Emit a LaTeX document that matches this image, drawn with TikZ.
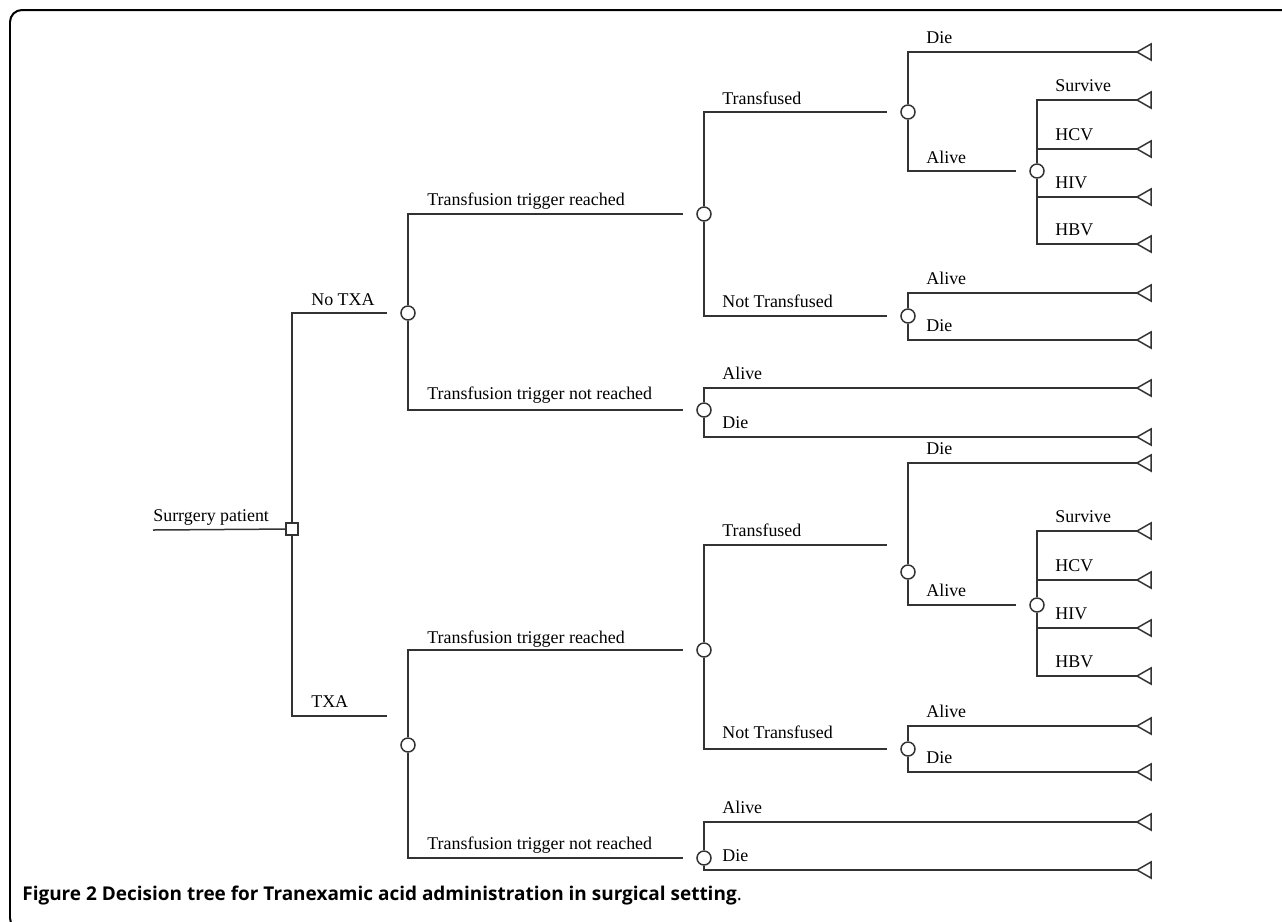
\documentclass[tikz,border=0pt]{standalone}
\usepackage{fontspec}
\setmainfont{Liberation Serif}
\newfontfamily\capfont{Open Sans}
\usetikzlibrary{calc}

\tikzset{
  tree/.style={line width=0.03cm, draw=black!80},
  gap/.style={tree, shorten >=0.26cm},
  chance/.style={circle, draw=black!80, line width=0.03cm, fill=white, inner sep=0pt, minimum size=0.28cm},
  decision/.style={rectangle, draw=black!80, line width=0.03cm, fill=white, inner sep=0pt, minimum size=0.24cm},
  lbl/.style={anchor=base west, inner sep=0pt, font=\fontsize{10.2}{12}\selectfont},
  frame/.style={line width=0.04cm, rounded corners=0.24cm},
}

\begin{document}
\begin{tikzpicture}[x=0.02cm,y=-0.02cm]
    \useasboundingbox (0,0) rectangle (1282,921);
    \clip (0,0) rectangle (1282,921);
    \draw[frame] (1300,10) -| (10,930) -- (1300,930);

    \coordinate (start) at (153,530);
    \coordinate (txa-end) at (387,716);
    \coordinate (trans-end-b) at (887,545);
    \node[decision] (root) at (292,529) {};
    \node[chance] (notxa) at (408,313) {};
    \node[chance] (txa) at (408,745) {};
    \node[chance] (trig-a) at (704,214) {};
    \node[chance] (notrig-a) at (704,410) {};
    \node[chance] (trig-b) at (704,650) {};
    \node[chance] (notrig-b) at (704,858) {};
    \node[chance] (trans-a) at (908,112) {};
    \node[chance] (nottrans-a) at (908,316) {};
    \node[chance] (trans-b) at (908,572) {};
    \node[chance] (nottrans-b) at (908,749) {};
    \node[chance] (alive-a) at (1037,171) {};
    \node[chance] (alive-b) at (1037,605) {};
    \coordinate (die-a) at (1137,52);
    \coordinate (surv-a) at (1137,100);
    \coordinate (hcv-a) at (1137,149);
    \coordinate (hiv-a) at (1137,197);
    \coordinate (hbv-a) at (1137,244);
    \coordinate (nt-alive-a) at (1137,293);
    \coordinate (nt-die-a) at (1137,340);
    \coordinate (nr-alive-a) at (1137,388);
    \coordinate (nr-die-a) at (1137,437);
    \coordinate (die-b) at (1137,463);
    \coordinate (surv-b) at (1137,531);
    \coordinate (hcv-b) at (1137,580);
    \coordinate (hiv-b) at (1137,628);
    \coordinate (hbv-b) at (1137,676);
    \coordinate (nt-alive-b) at (1137,726);
    \coordinate (nt-die-b) at (1137,772);
    \coordinate (nr-alive-b) at (1137,822);
    \coordinate (nr-die-b) at (1137,870);

      \draw[tree] (start) -- (root);
      \draw[gap] (root) |- (notxa);
      \draw[tree] (root) |- (txa-end);
      \draw[gap] (notxa) |- (trig-a);
      \draw[gap] (notxa) |- (notrig-a);
      \draw[gap] (txa) |- (trig-b);
      \draw[gap] (txa) |- (notrig-b);
      \draw[gap] (trig-a) |- (trans-a);
      \draw[gap] (trig-a) |- (nottrans-a);
      \draw[tree] (trig-b) |- (trans-end-b);
      \draw[gap] (trig-b) |- (nottrans-b);
      \draw[tree] (trans-a) |- (die-a);
      \draw[gap] (trans-a) |- (alive-a);
      \draw[tree] (trans-b) |- (die-b);
      \draw[gap] (trans-b) |- (alive-b);
      \draw[tree] (alive-a) |- (surv-a);
      \draw[tree] (alive-a) |- (hcv-a);
      \draw[tree] (alive-a) |- (hiv-a);
      \draw[tree] (alive-a) |- (hbv-a);
      \draw[tree] (alive-b) |- (surv-b);
      \draw[tree] (alive-b) |- (hcv-b);
      \draw[tree] (alive-b) |- (hiv-b);
      \draw[tree] (alive-b) |- (hbv-b);
      \draw[tree] (nottrans-a) |- (nt-alive-a);
      \draw[tree] (nottrans-a) |- (nt-die-a);
      \draw[tree] (nottrans-b) |- (nt-alive-b);
      \draw[tree] (nottrans-b) |- (nt-die-b);
      \draw[tree] (notrig-a) |- (nr-alive-a);
      \draw[tree] (notrig-a) |- (nr-die-a);
      \draw[tree] (notrig-b) |- (nr-alive-b);
      \draw[tree] (notrig-b) |- (nr-die-b);
      \foreach \t in {die-a,surv-a,hcv-a,hiv-a,hbv-a,nt-alive-a,nt-die-a,nr-alive-a,nr-die-a,
                      die-b,surv-b,hcv-b,hiv-b,hbv-b,nt-alive-b,nt-die-b,nr-alive-b,nr-die-b}
        \draw[tree] (\t) -- ++(14,-8) -- ++(0,16) -- cycle;

      \node[lbl] (l-root) at (153,521) {Surrgery patient};
      \node[lbl] (l-notxa) at (311,305) {No TXA};
      \node[lbl] (l-txa) at (311,707) {TXA};
      \node[lbl] (l-trig-a) at (427,205) {Transfusion trigger reached};
      \node[lbl] (l-notrig-a) at (427,399) {Transfusion trigger not reached};
      \node[lbl] (l-trig-b) at (427,643) {Transfusion trigger reached};
      \node[lbl] (l-notrig-b) at (427,849) {Transfusion trigger not reached};
      \node[lbl] (l-trans-a) at (722,104) {Transfused};
      \node[lbl] (l-nottrans-a) at (722,307) {Not Transfused};
      \node[lbl] (l-trans-b) at (722,536) {Transfused};
      \node[lbl] (l-nottrans-b) at (722,738) {Not Transfused};
      \node[lbl] (l-nr-alive-a) at (722,379) {Alive};
      \node[lbl] (l-nr-die-a) at (722,428) {Die};
      \node[lbl] (l-nr-alive-b) at (722,813) {Alive};
      \node[lbl] (l-nr-die-b) at (722,861) {Die};
      \node[lbl] (l-die-a) at (926,43) {Die};
      \node[lbl] (l-alive-a) at (926,163) {Alive};
      \node[lbl] (l-nt-alive-a) at (926,284) {Alive};
      \node[lbl] (l-nt-die-a) at (926,331) {Die};
      \node[lbl] (l-die-b) at (926,454) {Die};
      \node[lbl] (l-alive-b) at (926,596) {Alive};
      \node[lbl] (l-nt-alive-b) at (926,717) {Alive};
      \node[lbl] (l-nt-die-b) at (926,763) {Die};
      \node[lbl] (l-surv-a) at (1055,91) {Survive};
      \node[lbl] (l-hcv-a) at (1055,140) {HCV};
      \node[lbl] (l-hiv-a) at (1055,188) {HIV};
      \node[lbl] (l-hbv-a) at (1055,235) {HBV};
      \node[lbl] (l-surv-b) at (1055,522) {Survive};
      \node[lbl] (l-hcv-b) at (1055,571) {HCV};
      \node[lbl] (l-hiv-b) at (1055,619) {HIV};
      \node[lbl] (l-hbv-b) at (1055,667) {HBV};
      \node[anchor=base west, inner sep=0pt, font=\capfont\fontsize{10.8}{13}\selectfont] (caption) at (22,900)
        {\textbf{Figure 2 Decision tree for Tranexamic acid administration in surgical setting}.};
  \end{tikzpicture}
\end{document}
